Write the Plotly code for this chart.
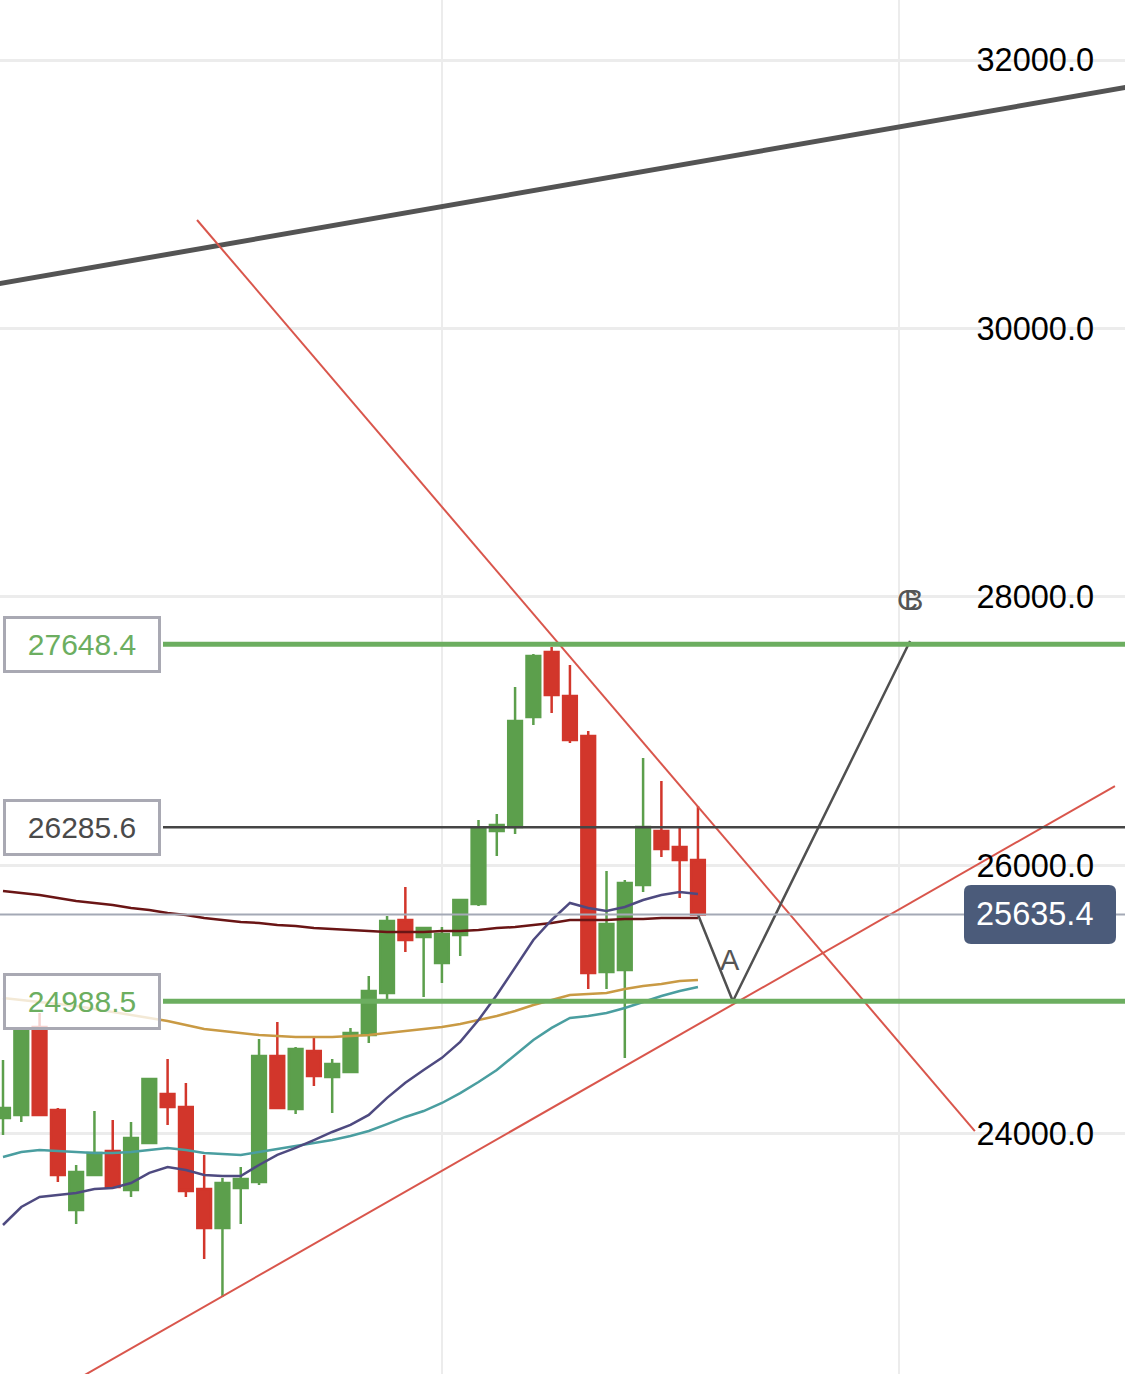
import plotly.graph_objects as go

# ---------------- data ----------------
idx = list(range(39))
opens = [24119, 24141, 24797, 24179, 23434, 23695, 23873, 23583, 23933, 24298,
         24201, 23590, 23300, 23598, 23642, 24581, 24186, 24618, 24425, 24462,
         24737, 25050, 25594, 25467, 25274, 25482, 25713, 26257, 26287, 27106,
         27590, 27263, 26965, 25207, 25222, 25855, 26257, 26138, 26041]
highs = [24551, 24790, 24901, 24194, 23769, 24171, 24104, 24089, 24417, 24559,
         24380, 23844, 23672, 23754, 24708, 24834, 24648, 24722, 24559, 24790,
         25177, 25624, 25840, 25542, 25542, 25750, 26339, 26384, 27330, 27575,
         27628, 27494, 27002, 25959, 25892, 26801, 26629, 26279, 26443]
lows = [23992, 24089, 24134, 23642, 23330, 23687, 23598, 23531, 23933, 24067,
        23531, 23069, 22786, 23330, 23620, 24186, 24149, 24357, 24156, 24462,
        24678, 24976, 25356, 25020, 25125, 25326, 25698, 26071, 26235, 27047,
        27136, 26912, 25080, 25080, 24566, 25803, 26063, 25758, 25635.4]
closes = [24194, 24775, 24141, 23695, 23717, 23858, 23605, 23970, 24410, 24201,
          23575, 23300, 23635, 23665, 24581, 24194, 24633, 24432, 24521, 24752,
          25065, 25587, 25445, 25534, 25490, 25743, 26279, 26302, 27076, 27561,
          27270, 26935, 25199, 25564, 25870, 26287, 26123, 26041, 25635.4]

ma_maroon = [25810, 25795, 25780, 25758, 25736, 25721, 25706, 25683, 25669, 25646,
             25631, 25609, 25594, 25579, 25572, 25557, 25549, 25534, 25527, 25520,
             25512, 25505, 25505, 25505, 25512, 25512, 25520, 25534, 25542, 25557,
             25572, 25594, 25594, 25594, 25601, 25601, 25609, 25609, 25609]
ma_orange = [25013, 24998, 24983, 24968, 24953, 24931, 24909, 24886, 24864, 24842,
             24812, 24782, 24767, 24752, 24737, 24730, 24722, 24722, 24722, 24730,
             24737, 24752, 24767, 24782, 24797, 24819, 24849, 24879, 24916, 24961,
             24998, 25035, 25043, 25050, 25080, 25102, 25117, 25140, 25147]
ma_teal = [23829, 23866, 23881, 23873, 23866, 23858, 23858, 23866, 23881, 23896,
           23881, 23858, 23851, 23843, 23866, 23888, 23910, 23933, 23955, 23985,
           24022, 24074, 24127, 24171, 24231, 24305, 24387, 24477, 24589, 24700,
           24790, 24864, 24879, 24901, 24939, 24983, 25028, 25065, 25095]
ma_purple = [23322, 23456, 23531, 23546, 23561, 23590, 23598, 23635, 23710, 23754,
             23732, 23695, 23687, 23687, 23769, 23844, 23896, 23955, 24015, 24068,
             24142, 24269, 24381, 24477, 24567, 24686, 24849, 25035, 25236, 25445,
             25594, 25721, 25683, 25661, 25691, 25743, 25780, 25802, 25788]

level_resistance = 27648.4
level_pivot = 26285.6
level_support = 24988.5
last_price = 25635.4

trend_top_x = [-1, 62]
trend_top_y = [30315, 31810]
trend_down_x = [10.61, 53.14]
trend_down_y = [30808, 24022]
trend_up_x = [-0.164, 60.80]
trend_up_y = [21844, 26592]

wave_x = [38, 39.91, 49.6]
wave_y = [25635.4, 24988.5, 27672]
wave_labels = ["A", "B", "C"]
wave_label_x = [39.75, 49.78, 49.45]
wave_label_y = [25296, 27978, 27978]

y_ticks = [24000, 26000, 28000, 30000, 32000]

# ---------------- figure ----------------
FONT = "Liberation Sans, Arial, Helvetica, sans-serif"
GREEN = "#5c9f4c"
RED = "#d2362b"
LEVEL_GREEN = "#6cae60"

fig = go.Figure()

fig.add_trace(go.Candlestick(
    x=idx, open=opens, high=highs, low=lows, close=closes,
    increasing=dict(line=dict(color=GREEN, width=2.5), fillcolor=GREEN),
    decreasing=dict(line=dict(color=RED, width=2.5), fillcolor=RED),
    showlegend=False, hoverinfo="skip"))

for vals, col in [(ma_maroon, "#6a1515"), (ma_orange, "#c99a44"),
                  (ma_teal, "#4a9ea0"), (ma_purple, "#4e4a80")]:
    fig.add_trace(go.Scatter(x=idx, y=vals, mode="lines",
                             line=dict(color=col, width=2.5),
                             showlegend=False, hoverinfo="skip"))

fig.add_trace(go.Scatter(x=trend_top_x, y=trend_top_y, mode="lines",
                         line=dict(color="#545454", width=5),
                         showlegend=False, hoverinfo="skip"))
fig.add_trace(go.Scatter(x=trend_down_x, y=trend_down_y, mode="lines",
                         line=dict(color="#d9564c", width=2),
                         showlegend=False, hoverinfo="skip"))
fig.add_trace(go.Scatter(x=trend_up_x, y=trend_up_y, mode="lines",
                         line=dict(color="#d9564c", width=2),
                         showlegend=False, hoverinfo="skip"))
fig.add_trace(go.Scatter(x=wave_x, y=wave_y, mode="lines",
                         line=dict(color="#505050", width=2.5),
                         showlegend=False, hoverinfo="skip"))

# horizontal levels
box_right = 163 / 1125
fig.add_shape(type="line", xref="paper", yref="y", x0=0, x1=1,
              y0=last_price, y1=last_price, line=dict(color="#a4a9b6", width=2))
fig.add_shape(type="line", xref="paper", yref="y", x0=box_right, x1=1,
              y0=level_resistance, y1=level_resistance, line=dict(color=LEVEL_GREEN, width=5))
fig.add_shape(type="line", xref="paper", yref="y", x0=box_right, x1=1,
              y0=level_support, y1=level_support, line=dict(color=LEVEL_GREEN, width=5))
fig.add_shape(type="line", xref="paper", yref="y", x0=box_right, x1=1,
              y0=level_pivot, y1=level_pivot, line=dict(color="#454545", width=2.5))

# left level labels
for val, col in [(level_resistance, LEVEL_GREEN), (level_pivot, "#4a4a4a"),
                 (level_support, LEVEL_GREEN)]:
    fig.add_annotation(xref="paper", yref="y", x=3 / 1125, y=val,
                       xanchor="left", yanchor="middle", showarrow=False,
                       text=f"{val:.1f}", font=dict(family=FONT, size=30, color=col),
                       width=150, height=49, align="center",
                       bgcolor="rgba(255,255,255,0.78)", bordercolor="#a9a9b3",
                       borderwidth=3, borderpad=1)

# last price tag (rounded box)
px_per_price = 1374 / (32446.9 - 22212.2)
half_h = 29.5 / px_per_price
r_y = 7 / px_per_price
x0, x1 = 964 / 1125, 1116 / 1125
r_x = 7 / 1125
y0, y1 = last_price - half_h, last_price + half_h
path = (f"M {x0 + r_x},{y1} L {x1 - r_x},{y1} Q {x1},{y1} {x1},{y1 - r_y} "
        f"L {x1},{y0 + r_y} Q {x1},{y0} {x1 - r_x},{y0} L {x0 + r_x},{y0} "
        f"Q {x0},{y0} {x0},{y0 + r_y} L {x0},{y1 - r_y} Q {x0},{y1} {x0 + r_x},{y1} Z")
fig.add_shape(type="path", xref="paper", yref="y", path=path,
              fillcolor="#4b5b7a", line=dict(width=0))
fig.add_annotation(xref="paper", yref="y", x=1095 / 1125, y=last_price,
                   xanchor="right", yanchor="middle", showarrow=False,
                   text=f"{last_price:.1f}", font=dict(family=FONT, size=32.5, color="white"))

# wave labels (B and C sit on top of each other, as in the reference)
for lx, ly, lt in zip(wave_label_x, wave_label_y, wave_labels):
    fig.add_annotation(x=lx, y=ly, text=lt, showarrow=False,
                       xanchor="center", yanchor="middle",
                       font=dict(family=FONT, size=29, color="#555555"))

fig.update_layout(
    width=1125, height=1374,
    margin=dict(l=0, r=0, t=0, b=0),
    paper_bgcolor="white", plot_bgcolor="white",
    showlegend=False, boxgap=0.25, boxgroupgap=0,
    font=dict(family=FONT),
    xaxis=dict(range=[-0.164, 61.35], rangeslider=dict(visible=False),
               tickvals=[24, 49], showticklabels=False, showgrid=True,
               gridcolor="#ececec", gridwidth=2, zeroline=False, showline=False,
               fixedrange=True),
    yaxis=dict(range=[22212.2, 32446.9], side="right", tickvals=y_ticks,
               tickformat=".1f", ticklabelposition="inside",
               ticklabelstandoff=28,
               tickfont=dict(family=FONT, size=32.5, color="black"),
               showgrid=True, gridcolor="#ececec", gridwidth=2.5,
               zeroline=False, showline=False, fixedrange=True),
)

fig.write_html("out.html", config={"displayModeBar": False},
               post_script="document.body.style.margin='0px';document.body.style.overflow='hidden';")
